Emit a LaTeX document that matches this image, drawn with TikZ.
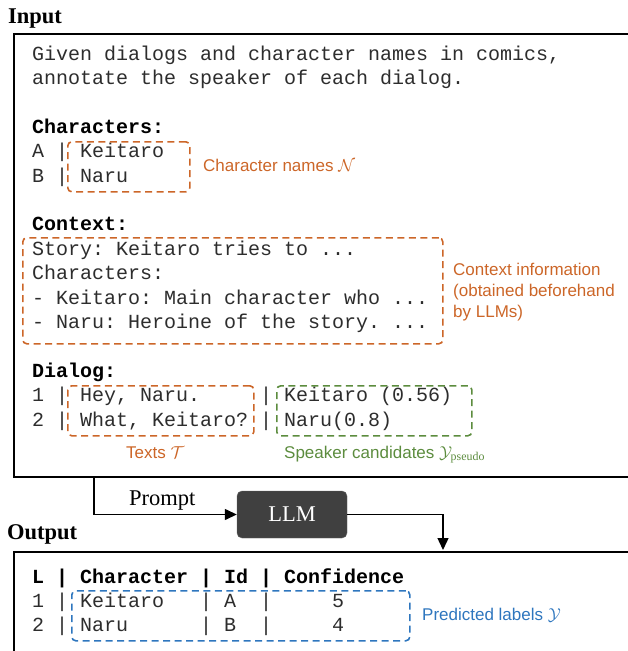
\documentclass[tikz,border=0pt]{standalone}
\usepackage{fontspec}
\setmainfont{Liberation Serif}
\setmonofont{Liberation Mono}
\newfontfamily\lblfont{Liberation Sans}
\usetikzlibrary{arrows.meta}
\definecolor{corange}{RGB}{204,102,40}
\definecolor{cgreen}{RGB}{92,140,62}
\definecolor{cblue}{RGB}{46,118,190}
\definecolor{llmgray}{RGB}{64,64,64}
\definecolor{txtgray}{RGB}{45,45,45}
\tikzset{
  mono/.style={anchor=base west, inner sep=0pt, text=txtgray, font=\ttfamily\fontsize{20}{24}\selectfont},
  monob/.style={mono, text=black, font=\ttfamily\bfseries\fontsize{20}{24}\selectfont},
  title/.style={anchor=base west, inner sep=0pt, font=\bfseries\fontsize{22.5}{26}\selectfont},
  frame/.style={draw=black, line width=2pt, anchor=north west, inner sep=0pt},
  dbox/.style={draw, line width=1.6pt, dash pattern=on 7pt off 4.5pt, rounded corners=4pt, inner sep=0pt, anchor=north west},
  lbl/.style={inner sep=0pt, font=\lblfont\fontsize{17}{21}\selectfont},
  conn/.style={line width=1.4pt, -{Triangle[length=12pt,width=11pt]}},
}
\begin{document}
\begin{tikzpicture}[x=1pt,y=-1pt]
\useasboundingbox (0,0) rectangle (628,651);
% titles
\node[title] (tin) at (8,23) {Input};
\node[title] (tout) at (7,539) {Output};
% frames (right edges fall outside the page)
\node[frame, minimum width=640pt, minimum height=443pt] (inbox) at (13,33) {};
\node[frame, minimum width=640pt, minimum height=120pt] (outbox) at (13,551) {};
% input text
\node[mono] (l1) at (32,60) {Given dialogs and character names in comics,};
\node[mono] (l2) at (32,84.4) {annotate the speaker of each dialog.};
\node[monob] (l3) at (32,133) {Characters:};
\node[mono] (l4) at (32,157.6) {A | Keitaro};
\node[mono] (l5) at (32,182) {B | Naru};
\node[monob] (l6) at (32,230.8) {Context:};
\node[mono] (l7) at (32,255.2) {Story: Keitaro tries to ...};
\node[mono] (l8) at (32,279.6) {Characters:};
\node[mono] (l9) at (32,304) {- Keitaro: Main character who ...};
\node[mono] (l10) at (32,328.4) {- Naru: Heroine of the story. ...};
\node[monob] (l11) at (32,377.2) {Dialog:};
\node[mono] (l12) at (32,401.6) {1 | Hey, Naru.~~~~~| Keitaro (0.56)};
\node[mono] (l13) at (32,426) {2 | What, Keitaro? | Naru(0.8)};
% output text
\node[monob] (o1) at (32,583) {L | Character | Id | Confidence};
\node[mono] (o2) at (32,607.5) {1 | Keitaro~~~| A~~|~~~~~5};
\node[mono] (o3) at (32,631) {2 | Naru~~~~~~| B~~|~~~~~4};
% dashed boxes
\node[dbox, draw=corange, minimum width=122pt, minimum height=50pt] (bchar) at (67,141) {};
\node[dbox, draw=corange, minimum width=420pt, minimum height=106pt] (bctx) at (22,237) {};
\node[dbox, draw=corange, minimum width=186pt, minimum height=50pt] (btxt) at (67,385) {};
\node[dbox, draw=cgreen, minimum width=195pt, minimum height=50pt] (bspk) at (276,385) {};
\node[dbox, draw=cblue, minimum width=338pt, minimum height=50pt] (bpred) at (71,590) {};
% labels
\node[lbl, text=corange, anchor=base west] (lchar) at (203,171) {Character names $\mathcal{N}$};
\node[lbl, text=corange, anchor=base west, align=left] (lctx) at (453,317) {Context information\\(obtained beforehand\\by LLMs)};
\node[lbl, text=corange, anchor=base west] (ltxt) at (126,458) {Texts $\mathcal{T}$};
\node[lbl, text=cgreen, anchor=base west] (lspk) at (284,458) {Speaker candidates $\mathcal{Y}_{\mathrm{pseudo}}$};
\node[lbl, text=cblue, anchor=base west] (lpred) at (422,620) {Predicted labels $\mathcal{Y}$};
% LLM
\node[fill=llmgray, draw=llmgray!80, rounded corners=5pt, minimum width=110pt, minimum height=47pt, inner sep=0pt,
      text=white, font=\fontsize{22.5}{26}\selectfont] (llm) at (292,514.5) {LLM};
\node[anchor=base west, inner sep=0pt, font=\fontsize{22.5}{26}\selectfont] (prompt) at (129,505) {Prompt};
% connectors
\coordinate (pstart) at (94,476);
\coordinate (oend) at (443,550);
\draw[conn] (pstart) |- (llm.west);
\draw[conn] (llm.east) -| (oend);
\end{tikzpicture}
\end{document}
